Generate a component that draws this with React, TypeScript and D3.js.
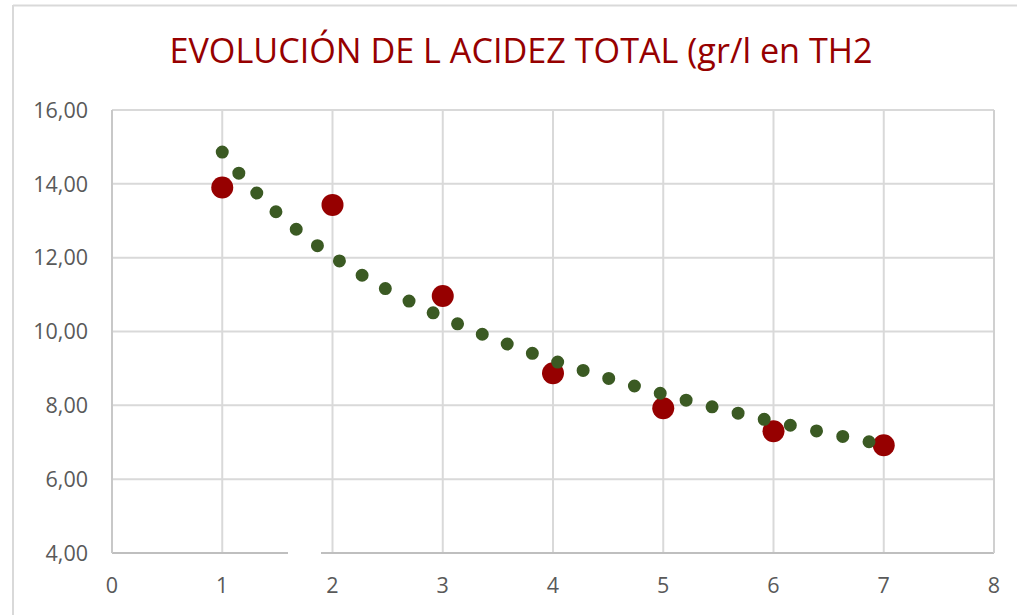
import React from "react";
import * as d3 from "d3";

const titleText = "EVOLUCIÓN DE L ACIDEZ TOTAL (gr/l en TH2";
const xValues = [1, 2, 3, 4, 5, 6, 7];
const acidez = [13.9, 13.43, 10.96, 8.87, 7.92, 7.3, 6.92];
const xTicks = [0, 1, 2, 3, 4, 5, 6, 7, 8];
const yTicks = [4, 6, 8, 10, 12, 14, 16];

const W = 1017;
const H = 615;

export default function App() {
  const x = d3.scaleLinear().domain([0, 8]).range([112, 994]);
  const y = d3.scaleLinear().domain([4, 16]).range([553, 110]);

  // logarithmic trendline fit (y = a + b ln x)
  const lx = xValues.map((v) => Math.log(v));
  const mx = d3.mean(lx) as number;
  const my = d3.mean(acidez) as number;
  const sxy = d3.sum(lx, (v, i) => (v - mx) * (acidez[i] - my));
  const sxx = d3.sum(lx, (v) => (v - mx) * (v - mx));
  const b = sxy / sxx;
  const a = my - b * mx;
  const trendX = d3.range(1, 7.0001, 0.02);
  const line = d3
    .line<number>()
    .x((v) => x(v))
    .y((v) => y(a + b * Math.log(v)))
    .curve(d3.curveLinear);

  const fmt = (v: number) => v.toFixed(2).replace(".", ",");

  return (
    <svg
      width={W}
      height={H}
      style={{ position: "absolute", left: 0, top: 0, background: "#fff" }}
    >
      <rect x={0} y={0} width={W} height={H} fill="#fff" />
      {/* outer chart border */}
      <line x1={13} y1={5.5} x2={W} y2={5.5} stroke="#d9d9d9" strokeWidth={2} />
      <line x1={13} y1={5} x2={13} y2={H} stroke="#d9d9d9" strokeWidth={2} />

      <text
        x={521}
        y={63}
        textAnchor="middle"
        fontFamily="'Open Sans', sans-serif"
        fontSize={35}
        fill="#960000"
        textLength={703}
        lengthAdjust="spacingAndGlyphs"
      >
        {titleText}
      </text>

      {/* gridlines */}
      {yTicks.map((t) => (
        <line
          key={"gy" + t}
          x1={x(0)}
          x2={x(8)}
          y1={y(t)}
          y2={y(t)}
          stroke="#d9d9d9"
          strokeWidth={2}
        />
      ))}
      {xTicks.map((t) => (
        <line
          key={"gx" + t}
          x1={x(t)}
          x2={x(t)}
          y1={y(4)}
          y2={y(16)}
          stroke="#d9d9d9"
          strokeWidth={2}
        />
      ))}
      {/* axes */}
      <line x1={x(0)} x2={x(8)} y1={y(4)} y2={y(4)} stroke="#bfbfbf" strokeWidth={2} />
      <line x1={x(0)} x2={x(0)} y1={y(4)} y2={y(16)} stroke="#c8c8c8" strokeWidth={2} />
      <line x1={x(8)} x2={x(8)} y1={y(4)} y2={y(16)} stroke="#d0d0d0" strokeWidth={2} />
      <rect x={288} y={548} width={33} height={10} fill="#fff" />

      {/* tick labels */}
      {yTicks.map((t) => (
        <text
          key={"ly" + t}
          x={88}
          y={y(t)}
          dy="0.36em"
          textAnchor="end"
          fontFamily="'Open Sans', sans-serif"
          fontSize={21.5}
          fill="#595959"
        >
          {fmt(t)}
        </text>
      ))}
      {xTicks.map((t) => (
        <text
          key={"lx" + t}
          x={x(t)}
          y={593}
          textAnchor="middle"
          fontFamily="'Open Sans', sans-serif"
          fontSize={21.5}
          fill="#595959"
        >
          {t}
        </text>
      ))}

      {/* data points */}
      {xValues.map((v, i) => (
        <circle key={"p" + i} cx={x(v)} cy={y(acidez[i])} r={11} fill="#960000" />
      ))}

      {/* trendline */}
      <path
        d={line(trendX) || ""}
        fill="none"
        stroke="#3b5a23"
        strokeWidth={13}
        strokeLinecap="round"
        strokeDasharray="0 26.8"
      />
    </svg>
  );
}
